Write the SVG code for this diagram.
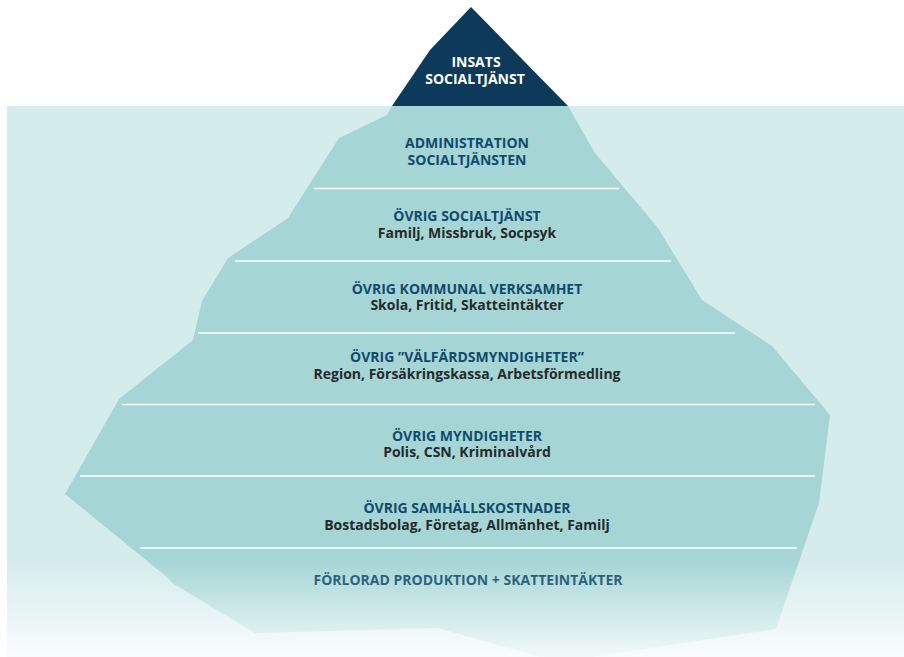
<svg xmlns="http://www.w3.org/2000/svg" width="904" height="657" viewBox="0 0 904 657">
<defs>
<linearGradient id="fade" x1="0" y1="560" x2="0" y2="657" gradientUnits="userSpaceOnUse">
<stop offset="0" stop-color="#ffffff" stop-opacity="0"/>
<stop offset="1" stop-color="#ffffff" stop-opacity="0.86"/>
</linearGradient>
<style>
text{font-family:"Open Sans","Noto Sans","Liberation Sans",sans-serif;font-weight:bold;font-size:14px;text-anchor:middle}
.t{fill:#0f4b6e}
.s{fill:#262a2c}
.w{fill:#ffffff}
.sep{stroke:#ffffff;stroke-width:1.6;fill:none}
</style>
</defs>
<rect id="water" x="7" y="106" width="897" height="551" fill="#d5ecec"/>
<polygon id="iceberg" fill="#a5d6d5" points="392,106 568,106 595,153 658,228 702,300 763,340 772,346 830,415 819,503 776,629 558,662 438,628 258,633 255,633 172,583 168,578 65,494 119,399 193,340 202,301 228,258 288,218 339,138 387,115"/>
<polygon id="peak" fill="#0d3a5a" points="471,7 430,50 392,106 568,106"/>
<rect id="fadeOverlay" x="0" y="560" width="904" height="97" fill="url(#fade)"/>
<g id="connectors">
<line class="sep" x1="314" y1="188.5" x2="619" y2="188.5"/>
<line class="sep" x1="235" y1="261" x2="671" y2="261"/>
<line class="sep" x1="198" y1="333" x2="735" y2="333"/>
<line class="sep" x1="122" y1="404.5" x2="815" y2="404.5"/>
<line class="sep" x1="80" y1="476" x2="815" y2="476"/>
<line class="sep" x1="140" y1="548" x2="797" y2="548"/>
</g>
<g id="node-insats">
<text class="w" x="476" y="67">INSATS</text>
<text class="w" x="475" y="84">SOCIALTJÄNST</text>
</g>
<g id="node-admin">
<text class="t" x="467" y="148">ADMINISTRATION</text>
<text class="t" x="467" y="165">SOCIALTJÄNSTEN</text>
</g>
<g id="node-ovrig-social">
<text class="t" x="467" y="221">ÖVRIG SOCIALTJÄNST</text>
<text class="s" x="467" y="238">Familj, Missbruk, Socpsyk</text>
</g>
<g id="node-kommunal">
<text class="t" x="467" y="294">ÖVRIG KOMMUNAL VERKSAMHET</text>
<text class="s" x="467" y="310">Skola, Fritid, Skatteintäkter</text>
</g>
<g id="node-valfard">
<text class="t" x="467" y="362">ÖVRIG ”VÄLFÄRDSMYNDIGHETER”</text>
<text class="s" x="467" y="379">Region, Försäkringskassa, Arbetsförmedling</text>
</g>
<g id="node-myndigheter">
<text class="t" x="467" y="441">ÖVRIG MYNDIGHETER</text>
<text class="s" x="467" y="457">Polis, CSN, Kriminalvård</text>
</g>
<g id="node-samhalle">
<text class="t" x="467" y="513">ÖVRIG SAMHÄLLSKOSTNADER</text>
<text class="s" x="467" y="530">Bostadsbolag, Företag, Allmänhet, Familj</text>
</g>
<g id="node-forlorad">
<text class="t" x="468" y="585" fill-opacity="0.85">FÖRLORAD PRODUKTION + SKATTEINTÄKTER</text>
</g>
</svg>
